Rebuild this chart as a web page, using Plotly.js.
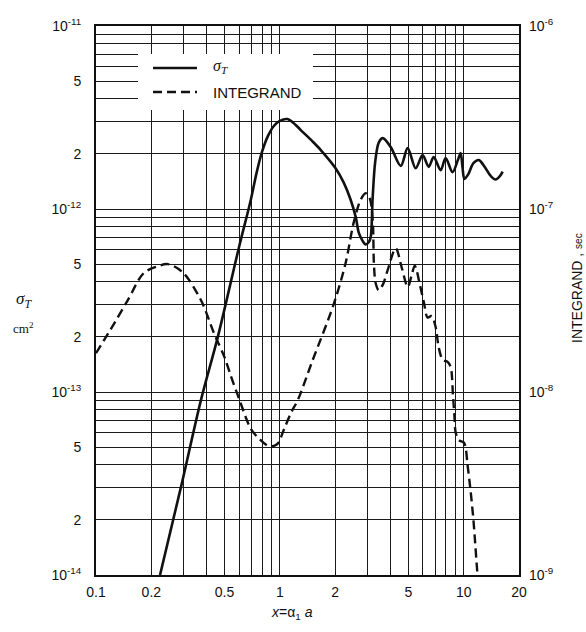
<!DOCTYPE html>
<html>
<head>
<meta charset="utf-8">
<script src="https://cdn.plot.ly/plotly-3.0.1.min.js"></script>
<style>html,body{margin:0;padding:0;background:#fff}</style>
</head>
<body>
<div id="chart" style="width:586px;height:632px"></div>
<script>
// sigma_T (cm^2), left axis
var sigmaX = [0.223, 0.29, 0.372, 0.46, 0.60, 0.695, 0.75, 0.80, 0.861, 0.93, 1.0, 1.1, 1.22, 1.30, 1.5, 1.67, 2.01, 2.23, 2.43, 2.59, 2.69, 2.82, 2.93, 3.05, 3.12, 3.2, 3.3, 3.45, 3.63, 4.01, 4.55, 4.96, 5.48, 5.98, 6.45, 6.87, 7.5, 7.98, 8.7, 9.3, 9.63, 9.85, 10.1, 10.6, 11.3, 12.1, 13.0, 14.0, 14.9, 15.8, 16.3];
var sigmaY = [1.0e-14, 3.03e-14, 9.0e-14, 2.0e-13, 6.2e-13, 1.12e-12, 1.6e-12, 2.05e-12, 2.5e-12, 2.85e-12, 3.03e-12, 3.1e-12, 2.88e-12, 2.7e-12, 2.35e-12, 2.1e-12, 1.67e-12, 1.39e-12, 1.12e-12, 9.0e-13, 7.4e-13, 6.7e-13, 6.4e-13, 6.6e-13, 7.0e-13, 1.16e-12, 1.8e-12, 2.3e-12, 2.44e-12, 2.18e-12, 1.72e-12, 2.15e-12, 1.67e-12, 1.97e-12, 1.7e-12, 1.92e-12, 1.63e-12, 1.9e-12, 1.59e-12, 1.85e-12, 2.02e-12, 1.7e-12, 1.46e-12, 1.55e-12, 1.78e-12, 1.85e-12, 1.7e-12, 1.52e-12, 1.45e-12, 1.52e-12, 1.6e-12];

// INTEGRAND (sec), right axis
var integX = [0.1, 0.125, 0.149, 0.182, 0.215, 0.246, 0.297, 0.372, 0.438, 0.5, 0.542, 0.6, 0.695, 0.78, 0.875, 0.97, 1.05, 1.15, 1.25, 1.5, 1.96, 2.28, 2.52, 2.75, 2.93, 3.08, 3.2, 3.25, 3.32, 3.45, 3.65, 3.86, 4.27, 4.6, 4.96, 5.2, 5.42, 5.8, 6.07, 6.37, 6.7, 7.05, 7.31, 7.69, 8.18, 8.5, 8.75, 8.9, 9.05, 9.4, 10.0, 10.2, 10.5, 10.9, 11.3, 11.9, 12.1];
var integY = [1.63e-8, 2.35e-8, 3.18e-8, 4.47e-8, 4.85e-8, 5.0e-8, 4.5e-8, 3.18e-8, 2.1e-8, 1.55e-8, 1.22e-8, 9.2e-9, 6.3e-9, 5.5e-9, 5.05e-9, 5.2e-9, 6.2e-9, 7.7e-9, 9.0e-9, 1.47e-8, 3.0e-8, 5.07e-8, 8.4e-8, 1.12e-7, 1.22e-7, 1.15e-7, 8.7e-8, 5.0e-8, 3.94e-8, 3.6e-8, 3.9e-8, 4.64e-8, 6.1e-8, 4.8e-8, 3.75e-8, 4.3e-8, 4.9e-8, 3.8e-8, 3.1e-8, 2.55e-8, 2.6e-8, 2.25e-8, 1.76e-8, 1.5e-8, 1.46e-8, 1.37e-8, 9.5e-9, 7.5e-9, 6.0e-9, 5.47e-9, 5.3e-9, 5.1e-9, 4.0e-9, 2.9e-9, 2.0e-9, 1.0e-9, 8.5e-10];

// tick labels
var xTickVals = [0.1, 0.2, 0.5, 1, 2, 5, 10, 20];
var xTickText = ['0.1', '0.2', '0.5', '1', '2', '5', '10', '20'];
var xGridVals = [0.3,0.4,0.6,0.7,0.8,0.9,3,4,6,7,8,9];
var yTickVals = [1e-14, 2e-14, 5e-14, 1e-13, 2e-13, 5e-13, 1e-12, 2e-12, 5e-12, 1e-11];
var yTickText = ['10<sup>-14</sup>', '2', '5', '10<sup>-13</sup>', '2', '5', '10<sup>-12</sup>', '2', '5', '10<sup>-11</sup>'];
var yGridMantissas = [3, 4, 6, 7, 8, 9];
var yGridDecades = [-14, -13, -12];
var rightTickVals = [1e-9, 1e-8, 1e-7, 1e-6];
var rightTickText = ['10<sup>-9</sup>', '10<sup>-8</sup>', '10<sup>-7</sup>', '10<sup>-6</sup>'];

var yGridVals = [];
yGridDecades.forEach(function(d){
  yGridMantissas.forEach(function(m){ yGridVals.push(m * Math.pow(10, d)); });
});

var FONT = 'Liberation Sans, Arial, Helvetica, sans-serif';
var SERIF = 'Liberation Serif, Times New Roman, serif';
var GRID = '#1a1a1a';

var traces = [
  {x: sigmaX, y: sigmaY, type: 'scatter', mode: 'lines', name: 'σT',
   line: {color: '#111', width: 2.6, shape: 'spline', smoothing: 0.9}, xaxis: 'x', yaxis: 'y'},
  {x: integX, y: integY, type: 'scatter', mode: 'lines', name: 'INTEGRAND',
   line: {color: '#111', width: 2.4, dash: '9px,5px', shape: 'spline', smoothing: 0.9}, xaxis: 'x', yaxis: 'y2'}
];

function px2x(p){ return (p - 96) / 423; }
function px2y(p){ return (575 - p) / 549; }

var layout = {
  width: 586, height: 632,
  margin: {l: 96, r: 67, t: 26, b: 57},
  paper_bgcolor: '#fff', plot_bgcolor: '#fff',
  showlegend: false,
  font: {family: FONT, color: '#111', size: 14},
  xaxis: {
    type: 'log', range: [-1, Math.log10(20)],
    tickmode: 'array', tickvals: xTickVals, ticktext: xTickText,
    ticks: '', ticklabelstandoff: 3,
    showgrid: true, gridcolor: GRID, gridwidth: 1,
    minor: {tickmode: 'array', tickvals: xGridVals, showgrid: true, gridcolor: GRID, gridwidth: 1, ticks: ''},
    showline: true, linecolor: '#111', linewidth: 2, mirror: true,
    zeroline: false, tickfont: {size: 14, family: FONT}
  },
  yaxis: {
    type: 'log', range: [-14, -11],
    tickmode: 'array', tickvals: yTickVals, ticktext: yTickText,
    ticks: '', ticklabelstandoff: 10,
    showgrid: true, gridcolor: GRID, gridwidth: 1,
    minor: {tickmode: 'array', tickvals: yGridVals, showgrid: true, gridcolor: GRID, gridwidth: 1, ticks: ''},
    showline: true, linecolor: '#111', linewidth: 2, mirror: true,
    zeroline: false, tickfont: {size: 14, family: FONT}
  },
  yaxis2: {
    type: 'log', range: [-9, -6], overlaying: 'y', side: 'right',
    tickmode: 'array', tickvals: rightTickVals, ticktext: rightTickText,
    ticks: '', ticklabelstandoff: 9, showgrid: false, zeroline: false,
    showline: false, tickfont: {size: 14, family: FONT}
  },
  shapes: [
    {type: 'rect', xref: 'paper', yref: 'paper', x0: px2x(138), x1: px2x(313), y0: px2y(110), y1: px2y(54),
     fillcolor: '#fff', line: {width: 0}, layer: 'above'},
    {type: 'line', xref: 'paper', yref: 'paper', x0: px2x(153), x1: px2x(197), y0: px2y(68), y1: px2y(68),
     line: {color: '#111', width: 2.6}, layer: 'above'},
    {type: 'line', xref: 'paper', yref: 'paper', x0: px2x(153), x1: px2x(197), y0: px2y(92), y1: px2y(92),
     line: {color: '#111', width: 2.4, dash: '9px,5px'}, layer: 'above'}
  ],
  annotations: [
    {xref: 'paper', yref: 'paper', x: px2x(211), y: px2y(66), xanchor: 'left', yanchor: 'middle', showarrow: false,
     text: '<i>σ<sub>T</sub></i>', font: {size: 16, family: SERIF}},
    {xref: 'paper', yref: 'paper', x: px2x(211), y: px2y(92), xanchor: 'left', yanchor: 'middle', showarrow: false,
     text: 'INTEGRAND', font: {size: 15, family: FONT}},
    {xref: 'paper', yref: 'paper', x: px2x(24), y: px2y(300), xanchor: 'center', yanchor: 'middle', showarrow: false,
     text: '<i>σ<sub>T</sub></i>', font: {size: 17, family: SERIF}},
    {xref: 'paper', yref: 'paper', x: px2x(23), y: px2y(328), xanchor: 'center', yanchor: 'middle', showarrow: false,
     text: 'cm<sup>2</sup>', font: {size: 13, family: SERIF}},
    {xref: 'paper', yref: 'paper', x: px2x(577), y: px2y(288), xanchor: 'center', yanchor: 'middle', showarrow: false,
     textangle: -90, text: 'INTEGRAND , <span style="font-size:10px">sec</span>', font: {size: 14, family: FONT}},
    {xref: 'paper', yref: 'paper', x: px2x(292), y: px2y(613), xanchor: 'center', yanchor: 'middle', showarrow: false,
     text: '<i>x</i>=α<sub>1</sub> <i>a</i>', font: {size: 14, family: FONT}}
  ]
};

Plotly.newPlot('chart', traces, layout, {staticPlot: true, displayModeBar: false});
</script>
</body>
</html>
